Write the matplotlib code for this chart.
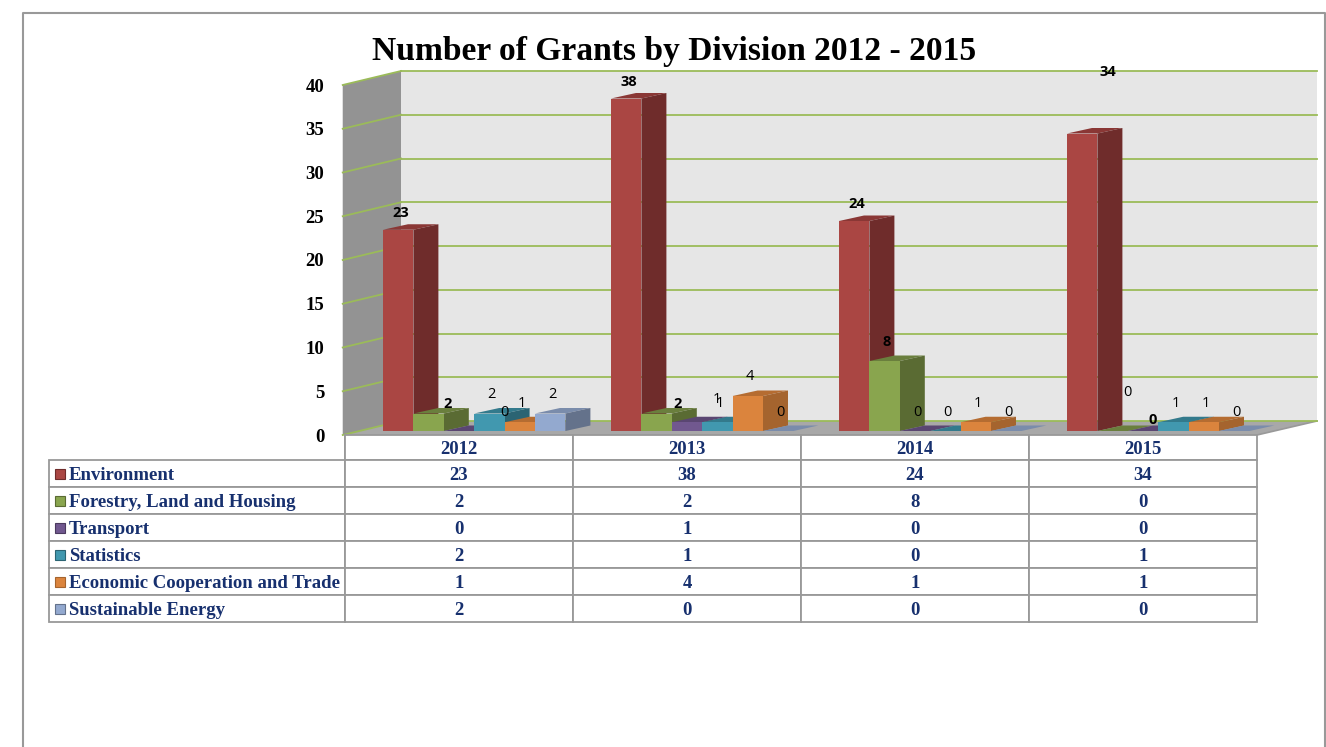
import matplotlib
matplotlib.use('Agg')
import matplotlib.pyplot as plt
from matplotlib.patches import Rectangle

# data
years = ['2012', '2013', '2014', '2015']
divisions = ['Environment', 'Forestry, Land and Housing', 'Transport', 'Statistics',
             'Economic Cooperation and Trade', 'Sustainable Energy']
environment = [23, 38, 24, 34]
forestry = [2, 2, 8, 0]
transport = [0, 1, 0, 0]
statistics = [2, 1, 0, 1]
economic = [1, 4, 1, 1]
sustainable = [2, 0, 0, 0]
all_series = [environment, forestry, transport, statistics, economic, sustainable]
y_ticks = [0, 5, 10, 15, 20, 25, 30, 35, 40]

# colours per series
front_cols = ['#aa4643', '#89a54e', '#71588f', '#4198af', '#db843d', '#93a9cf']
side_cols = ['#6f2c2b', '#5a6b33', '#4b3a5f', '#2b6473', '#a5642e', '#64728b']
top_cols = ['#8a3735', '#6a7f3d', '#5a4672', '#337a8c', '#b56c31', '#7a8cab']
text_blue = '#17306e'
grid_green = '#9bbb59'
line_gray = '#999999'

# label nudges in pixels, dy positive = down (series, year): (dx, dy), some labels sit off the rule
nudges = {(0, 0): (1, 2), (0, 1): (1, 2), (0, 2): (1, 2), (0, 3): (24, -42),
          (1, 0): (17, 9), (1, 1): (19, 10), (1, 3): (13, -19),
          (2, 0): (43, 0), (2, 1): (28, -4), (2, 3): (8, 8)}
bold_labels = {(0, 0), (0, 1), (0, 2), (0, 3), (1, 0), (1, 1), (1, 2), (2, 3)}

W, H = 1326, 747
fig = plt.figure(figsize=(W / 100, H / 100), dpi=100, facecolor='white')

# outer frame of the page
fig.add_artist(plt.Line2D([23 / W, 23 / W, 1325 / W, 1325 / W], [0, 1 - 13 / H, 1 - 13 / H, 0],
                          color=line_gray, lw=1.5))

fig.text(674 / W, 1 - 60 / H, 'Number of Grants by Division 2012 - 2015', ha='center', va='baseline',
         fontsize=24.1, fontweight='bold', family='Liberation Serif', color='black')

# chart, front plane: 345..1257 px wide, value 0 at 435 px, 40 at 85 px
ax = fig.add_axes([345 / W, 1 - 435 / H, 912 / W, 350 / H])
ax.set_xlim(0, 4)
ax.set_ylim(0, 40)
ax.patch.set_visible(False)
for s in ax.spines.values():
    s.set_visible(False)
ax.set_xticks([])
ax.set_yticks(y_ticks)
ax.tick_params(axis='y', length=0, pad=15)
for t in ax.get_yticklabels():
    t.set_fontsize(13.5)
    t.set_fontweight('bold')
    t.set_family('Liberation Serif')

px_x = 4 / 912
px_y = 40 / 350
wall_dx = 56 * px_x
right_dx = 60 * px_x
wall_dy = 14 * px_y
bar_dx = 25 * px_x
bar_dy = 5.5 * px_y
lift = 4 * px_y
bar_w = 30.4 * px_x
first_bar = 38 * px_x

# walls and floor
ax.fill([wall_dx, 4 + right_dx, 4 + right_dx, wall_dx], [wall_dy, wall_dy, 40 + wall_dy, 40 + wall_dy],
        color='#e6e6e6', lw=0, zorder=1, clip_on=False)
ax.fill([-0.01, wall_dx, wall_dx, -0.01], [0, wall_dy, 40 + wall_dy, 40], color='#939393', lw=0,
        zorder=1, clip_on=False)
ax.fill([-0.01, 4, 4 + right_dx, wall_dx], [0, 0, wall_dy, wall_dy], color='#a8a8a8', lw=0, zorder=2,
        clip_on=False)
ax.plot([4, 4 + right_dx], [0, wall_dy], color=line_gray, lw=1.2, zorder=2, clip_on=False)
for v in y_ticks:
    ax.plot([wall_dx, 4 + right_dx], [v + wall_dy, v + wall_dy], color=grid_green, lw=1.3, zorder=3,
            clip_on=False)
    ax.plot([-0.01, wall_dx], [v, v + wall_dy], color=grid_green, lw=1.3, zorder=3, clip_on=False)

# bars, left to right so the next front covers the side of the one before
z = 4
for yi in range(len(years)):
    for si, series in enumerate(all_series):
        v = series[yi]
        x0 = yi + first_bar + si * bar_w
        x1 = x0 + bar_w
        ytop = lift + v
        ax.fill([x0, x1, x1 + bar_dx, x0 + bar_dx], [ytop, ytop, ytop + bar_dy, ytop + bar_dy],
                color=top_cols[si], lw=0, zorder=z, clip_on=False)
        ax.fill([x1, x1 + bar_dx, x1 + bar_dx, x1], [lift, lift + bar_dy, ytop + bar_dy, ytop],
                color=side_cols[si], lw=0, zorder=z, clip_on=False)
        ax.bar(x0, v, width=bar_w, bottom=lift, align='edge', color=front_cols[si], lw=0, zorder=z + 1,
               clip_on=False)
        z += 2

# data labels
for yi in range(len(years)):
    for si, series in enumerate(all_series):
        x = yi + first_bar + (si + 0.5) * bar_w
        dx, dy = nudges.get((si, yi), (0, 0))
        ax.annotate(str(series[yi]), (x, lift + series[yi]), xytext=(2 + dx, 19 - dy),
                    textcoords='offset pixels', ha='center', va='center', fontsize=10.5,
                    family='Open Sans', color='black', zorder=200,
                    fontweight='bold' if (si, yi) in bold_labels else 'normal')

# table below the chart, 49..1257 px wide, 435..622 px high
tab_ax = fig.add_axes([49 / W, 1 - 622 / H, 1208 / W, 187 / H])
tab_ax.set_xlim(0, 1208)
tab_ax.set_ylim(187, 0)
tab_ax.axis('off')

cell_text = [[''] + years]
for name, series in zip(divisions, all_series):
    cell_text.append([name] + [str(v) for v in series])
col_w = [296 / 1208] + [228 / 1208] * 4
tab = tab_ax.table(cellText=cell_text, colWidths=col_w, bbox=[0, 0, 1, 1], cellLoc='center')
tab.auto_set_font_size(False)
for (r, c), cell in tab.get_celld().items():
    cell.set_edgecolor(line_gray)
    cell.set_linewidth(1.3)
    cell.get_text().set_fontsize(13.5)
    cell.get_text().set_fontweight('bold')
    cell.get_text().set_family('Liberation Serif')
    cell.get_text().set_color(text_blue)
    cell.get_text().set_va('center_baseline')
    cell.set_height(27 / 187 if r else 25 / 187)
    if c == 0:
        cell.get_text().set_ha('left')
        cell.PAD = 20 / 296
tab[(0, 0)].visible_edges = 'R'

# legend keys in the first column
for si in range(len(divisions)):
    yc = 25 + 27 * (si + 0.5)
    tab_ax.add_patch(Rectangle((6, yc - 5), 10, 10, facecolor=front_cols[si], edgecolor=side_cols[si],
                               lw=0.8, zorder=10))

plt.savefig('out.png', dpi=100)
